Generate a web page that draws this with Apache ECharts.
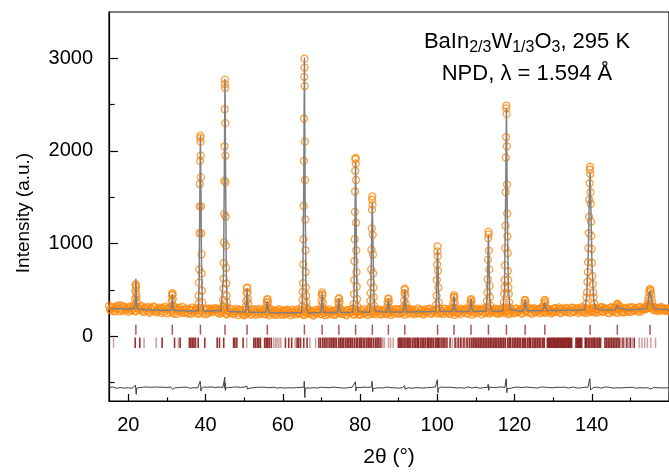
<!DOCTYPE html>
<html>
<head>
<meta charset="utf-8">
<script src="https://cdn.jsdelivr.net/npm/echarts/dist/echarts.min.js"></script>
<style>
html,body{margin:0;padding:0;background:#fff;}
#chart{width:669px;height:473px;}
</style>
</head>
<body>
<div id="chart"></div>
<script>
// ---------------- DATA ----------------
// observed background, set A (2θ from 15.0 in 0.5° steps)
const obsStartA = 15, obsStep = 0.5;
const obsBackgroundA = [
 328,278,309,267,318,295,334,273,312,285,
 262,321,290,330,271,305,283,326,259,300,
 315,253,294,322,268,280,309,249,297,318,
 246,307,284,262,313,239,291,275,316,252,
 298,244,281,309,257,287,240,303,265,296,
 237,299,262,284,276,305,289,241,268,300,
 290,233,271,298,249,262,295,228,280,255,
 226,288,253,279,240,292,231,266,294,245,
 284,236,262,225,289,250,277,229,291,258,
 230,282,247,270,224,287,261,235,289,248,
 279,227,261,288,240,265,222,283,251,272,
 238,286,226,263,290,245,271,229,284,257,
 289,241,268,224,280,252,291,233,266,277,
 232,273,292,246,227,285,259,238,290,264,
 287,234,268,295,243,276,229,282,257,293,
 240,291,258,230,279,296,247,285,235,270,
 299,248,277,233,288,260,297,241,271,285,
 244,292,256,238,297,270,249,301,262,231,
 293,255,239,284,270,300,248,279,233,290,
 247,296,272,235,289,258,302,244,280,263,
 298,241,285,264,303,250,276,237,293,269,
 251,300,266,289,243,305,274,256,297,240,
 302,261,288,246,309,270,253,296,280,244,
 257,303,270,311,249,288,265,306,282,252,
 309,262,296,250,288,314,271,300,255,292,
 264,310,251,297,278,315,260,302,285,248,
 312,266,297,253,290,317,272,258,305,281,
 260,314,279,300,262,318,289,305,296,324,
 335,312,281,306,270,298,315,276,301,289,268
];
// observed background, set B (2θ from 15.25 in 0.5° steps)
const obsStartB = 15.25;
const obsBackgroundB = [
 287,316,274,301,329,268,292,320,281,306,
 309,275,297,268,318,286,313,271,304,280,
 266,303,279,312,257,295,272,306,262,289,
 301,258,287,245,296,270,308,253,283,264,
 259,291,242,285,268,300,253,279,247,287,
 283,250,296,261,293,280,258,291,252,279,
 244,279,256,287,236,272,249,285,260,239,
 277,243,266,232,281,255,287,240,263,279,
 241,272,248,281,263,234,270,252,279,238,
 269,239,285,252,263,236,278,257,241,274,
 238,271,245,259,276,233,262,248,284,240,
 273,249,280,238,258,274,236,279,247,268,
 240,271,235,283,249,266,238,276,251,233,
 279,242,254,270,286,240,274,262,236,281,
 245,276,252,239,281,257,270,243,288,249,
 283,250,274,289,245,265,286,252,279,243,
 251,286,243,270,255,292,249,276,259,290,
 281,247,272,295,252,284,239,268,291,256,
 248,279,298,257,286,243,274,293,261,282,
 290,255,281,301,249,276,263,292,254,285,
 256,289,247,279,292,264,298,255,281,246,
 291,258,283,249,296,262,280,302,255,288,
 260,293,271,299,256,287,303,264,291,268,
 296,262,289,255,301,271,294,258,286,305,
 266,298,275,306,260,289,252,295,283,269,
 301,268,293,259,306,272,296,281,254,299,
 271,305,262,296,281,256,301,290,266,310,
 303,272,296,281,309,268,298,286,315,307,
 322,296,310,283,305,279,300,287,274,296
];
// observed points on the Bragg peaks [2θ, intensity]
const obsPeakPoints = [
 [21.6,330],[21.75,400],[21.85,490],[21.9,561],[21.95,545],[22.0,526],[22.05,455],[22.1,419],[22.2,366],[22.35,320],
 [31.1,320],[31.25,380],[31.33,440],[31.39,465],[31.45,450],[31.52,400],[31.65,330],
 [38.17,351],[38.25,437],[38.32,578],[38.37,721],[38.42,1111],[38.47,1402],[38.52,1643],[38.57,1892],[38.62,2140],[38.67,2165],
 [38.72,2100],[38.76,1950],[38.8,1715],[38.85,1402],[38.9,1111],[38.95,884],[39.0,678],[39.07,490],[39.15,365],
 [44.45,320],[44.55,391],[44.62,514],[44.68,621],[44.73,791],[44.78,1012],[44.83,1317],[44.88,1679],[44.93,2050],[44.96,2450],[44.99,2720],[45.04,2770],
 [45.08,2680],[45.12,2300],[45.15,1950],[45.18,1661],[45.22,1289],[45.27,977],[45.32,738],[45.37,568],[45.43,437],[45.5,365],[45.6,310],
 [50.45,320],[50.55,380],[50.65,470],[50.72,520],[50.78,525],[50.85,472],[50.95,401],[51.05,351],
 [55.72,310],[55.85,365],[55.95,395],[56.05,401],[56.15,365],[56.28,310],
 [65.0,320],[65.1,394],[65.17,479],[65.24,572],[65.3,774],[65.35,1047],[65.4,1406],[65.45,1892],[65.5,2350],[65.55,2800],[65.6,2996],
 [65.63,2900],[65.66,2700],[65.7,2100],[65.75,1686],[65.8,1260],[65.85,927],[65.9,692],[65.96,525],[66.03,437],[66.1,365],[66.2,310],
 [69.9,305],[70.02,380],[70.12,450],[70.2,472],[70.28,440],[70.4,360],[70.55,300],
 [74.25,300],[74.38,360],[74.48,400],[74.56,410],[74.66,370],[74.8,305],
 [78.28,300],[78.38,348],[78.46,455],[78.53,607],[78.58,809],[78.63,1047],[78.68,1342],[78.72,1562],[78.76,1786],[78.8,1910],[78.85,1925],
 [78.9,1864],[78.94,1686],[78.98,1225],[79.03,927],[79.08,692],[79.14,536],[79.21,401],[79.3,320],
 [82.58,310],[82.68,380],[82.76,465],[82.83,578],[82.9,721],[82.96,934],[83.02,1164],[83.08,1366],[83.13,1473],[83.18,1509],
 [83.24,1420],[83.29,1094],[83.34,881],[83.4,678],[83.47,525],[83.55,419],[83.65,330],
 [87.05,300],[87.18,360],[87.28,400],[87.36,408],[87.46,370],[87.6,305],
 [91.28,310],[91.4,380],[91.5,465],[91.57,514],[91.65,500],[91.75,440],[91.88,350],[92.0,300],
 [99.72,340],[99.82,437],[99.9,607],[99.97,774],[100.03,916],[100.08,969],[100.13,863],[100.2,703],[100.28,525],[100.37,365],[100.48,300],
 [104.02,305],[104.15,360],[104.26,420],[104.34,444],[104.43,420],[104.55,360],[104.7,300],
 [108.45,300],[108.58,350],[108.68,390],[108.76,401],[108.86,370],[109.0,305],
 [112.75,310],[112.88,380],[112.98,472],[113.06,614],[113.13,827],[113.2,1058],[113.25,1129],[113.31,1100],[113.37,923],[113.44,721],[113.52,543],[113.62,420],[113.75,330],
 [117.1,310],[117.22,365],[117.32,455],[117.4,525],[117.47,607],[117.54,764],[117.6,951],[117.66,1193],[117.71,1555],[117.76,1928],[117.81,2150],[117.86,2460],[117.91,2490],
 [117.96,2400],[118.01,2050],[118.06,1637],[118.11,1324],[118.16,1076],[118.22,898],[118.28,703],[118.35,607],[118.42,525],[118.5,455],[118.6,365],[118.72,310],
 [122.45,300],[122.58,345],[122.68,385],[122.76,391],[122.86,360],[123.0,305],
 [127.52,305],[127.66,350],[127.77,385],[127.86,391],[127.96,365],[128.12,310],
 [138.35,305],[138.52,350],[138.66,419],[138.78,472],[138.88,586],[138.97,692],[139.06,799],[139.14,951],[139.22,1111],[139.3,1289],[139.37,1473],[139.44,1651],[139.5,1797],[139.57,1829],
 [139.63,1750],[139.69,1555],[139.75,1430],[139.82,1235],[139.9,1083],[139.98,940],[140.06,791],[140.15,650],[140.24,561],[140.35,472],[140.47,419],[140.62,350],[140.8,305],
 [146.3,310],[146.48,335],[146.62,350],[146.78,340],[146.95,312],
 [154.4,340],[154.6,380],[154.75,419],[154.88,472],[155.0,505],[155.12,508],[155.25,490],[155.38,450],[155.5,400],[155.65,360],[155.85,320]
];
// calculated profile [2θ, intensity]
const calcPoints = [
 [15,300],[18,297],[20,294],
 [21.4,292],[21.75,330],[21.88,480],[21.96,620],[22.05,470],[22.2,330],[22.5,291],
 [25,286],[28,281],[30,279],
 [31.0,278],[31.25,330],[31.33,420],[31.39,455],[31.46,420],[31.55,330],[31.8,277],
 [34,275],[36,273],
 [38.1,272],[38.35,600],[38.5,1400],[38.67,2170],[38.82,1500],[38.98,700],[39.2,330],[39.5,272],
 [41,270],[42.5,278],[43.2,276],[44,267],
 [44.4,268],[44.65,650],[44.85,1700],[45.04,2780],[45.2,1650],[45.4,600],[45.65,300],[46.0,265],
 [48,263],
 [50.3,260],[50.55,330],[50.68,450],[50.75,515],[50.83,450],[50.97,330],[51.2,259],
 [53,257],
 [55.6,255],[55.85,310],[55.95,380],[56.0,400],[56.07,380],[56.2,310],[56.45,255],
 [58,254],[60,253],[62,252],[64,253],
 [64.9,256],[65.2,600],[65.42,1600],[65.6,3010],[65.78,1500],[66.0,560],[66.3,280],[66.6,254],
 [68,254],
 [69.8,256],[70.0,310],[70.12,420],[70.19,470],[70.27,420],[70.4,310],[70.65,256],
 [72,255],
 [74.1,256],[74.35,300],[74.46,380],[74.52,405],[74.6,380],[74.72,300],[74.95,256],
 [76.5,256],
 [78.1,258],[78.45,450],[78.7,1300],[78.85,1880],[79.0,1200],[79.2,430],[79.5,270],[79.8,258],
 [81,258],
 [82.5,259],[82.8,520],[83.02,1100],[83.18,1440],[83.32,1050],[83.55,480],[83.85,275],[84.2,259],
 [86,260],
 [86.9,260],[87.15,300],[87.27,380],[87.34,402],[87.42,380],[87.55,300],[87.8,261],
 [89.5,261],
 [91.1,262],[91.38,320],[91.5,440],[91.59,505],[91.68,440],[91.82,320],[92.1,262],
 [95,264],[97,264],
 [99.5,265],[99.8,420],[99.97,760],[100.08,930],[100.2,720],[100.38,380],[100.7,266],
 [102,265],
 [103.85,266],[104.12,310],[104.25,400],[104.33,440],[104.42,400],[104.56,310],[104.85,266],
 [106.5,266],
 [108.25,267],[108.53,300],[108.66,375],[108.74,400],[108.83,375],[108.97,300],[109.25,267],
 [111,268],
 [112.6,269],[112.95,440],[113.12,860],[113.25,1090],[113.38,830],[113.58,420],[113.95,272],
 [115.5,270],
 [117.0,272],[117.4,520],[117.68,1400],[117.91,2470],[118.12,1350],[118.4,540],[118.8,290],[119.2,272],
 [121,272],
 [122.25,273],[122.52,310],[122.66,368],[122.75,390],[122.84,368],[122.98,310],[123.25,274],
 [125,275],
 [127.3,276],[127.6,310],[127.75,370],[127.85,390],[127.95,370],[128.1,310],[128.4,277],
 [131,278],[134,279],[136.5,280],
 [138.2,285],[138.7,430],[139.1,900],[139.35,1450],[139.57,1770],[139.8,1350],[140.05,780],[140.45,420],[140.9,300],[141.4,283],
 [143,283],[145,284],
 [146.1,284],[146.4,305],[146.55,335],[146.62,342],[146.7,335],[146.85,305],[147.15,285],
 [149,286],[151,288],[153,292],
 [154.2,300],[154.55,350],[154.8,430],[155.0,490],[155.1,500],[155.25,480],[155.5,400],[155.8,330],[156.2,298],
 [157,293],[158,291],[160,289]
];
// difference curve (obs - calc, shifted), 0.5° steps from 15.0
const diffStart = 15, diffStep = 0.5;
const diffBaseline = [
 -552,-560,-549,-557,-563,-551,-556,-548,-561,-554,
 -557,-550,-562,-553,-547,-559,-555,-564,-550,-556,
 -549,-558,-553,-561,-548,-556,-552,-560,-551,-557,
 -554,-562,-549,-556,-559,-547,-555,-561,-552,-558,
 -550,-557,-563,-551,-556,-548,-559,-553,-560,-549,
 -556,-552,-561,-548,-557,-554,-562,-550,-558,-553,
 -560,-549,-555,-562,-551,-557,-548,-559,-553,-556,
 -551,-558,-554,-561,-549,-556,-563,-552,-557,-550,
 -559,-553,-548,-557,-562,-551,-555,-560,-549,-556,
 -554,-561,-550,-557,-552,-559,-548,-556,-562,-553,
 -557,-550,-558,-553,-561,-549,-556,-552,-560,-555,
 -551,-559,-554,-548,-557,-562,-550,-556,-553,-560,
 -558,-552,-561,-549,-555,-557,-551,-559,-554,-548,
 -556,-562,-550,-557,-553,-559,-549,-555,-561,-552,
 -557,-551,-559,-554,-548,-560,-556,-550,-558,-553,
 -561,-549,-555,-552,-559,-557,-550,-562,-554,-556,
 -551,-558,-553,-560,-548,-556,-561,-552,-557,-550,
 -555,-562,-549,-556,-553,-560,-551,-558,-554,-547,
 -559,-552,-557,-550,-561,-555,-548,-556,-560,-553,
 -550,-557,-562,-551,-556,-559,-553,-549,-558,-555,
 -561,-553,-556,-548,-560,-554,-557,-551,-562,-556,
 -552,-559,-550,-557,-555,-561,-549,-556,-553,-558,
 -556,-550,-560,-554,-548,-558,-552,-561,-555,-549,
 -557,-562,-551,-556,-553,-559,-550,-557,-561,-554,
 -549,-556,-558,-552,-560,-555,-551,-559,-553,-557,
 -560,-553,-557,-550,-556,-562,-554,-548,-558,-552,
 -555,-561,-549,-557,-553,-559,-551,-556,-560,-554,
 -558,-552,-556,-561,-550,-557,-553,-559,-548,-556,
 -552,-560,-555,-549,-557,-553,-558,-551,-559,-554,-556
];
const diffSpikes = [
 [21.85,-530],[21.95,-540],[22.05,-628],[22.15,-560],
 [31.35,-540],[31.45,-575],
 [38.6,-487],[38.72,-520],[38.8,-593],[38.9,-565],
 [44.98,-444],[45.05,-500],[45.12,-586],[45.2,-560],
 [50.7,-538],[50.8,-570],
 [65.55,-487],[65.62,-540],[65.7,-663],[65.8,-580],
 [78.8,-493],[78.88,-540],[78.95,-593],[79.05,-565],
 [83.12,-487],[83.2,-545],[83.27,-600],[83.35,-565],
 [91.55,-535],[91.65,-572],
 [100.02,-470],[100.1,-540],[100.18,-610],[100.28,-565],
 [113.2,-520],[113.3,-585],
 [117.85,-460],[117.93,-530],[118.0,-610],[118.1,-568],
 [139.5,-458],[139.6,-520],[139.7,-580],[139.85,-562],
 [155.0,-540],[155.2,-570]
];
// Bragg reflection positions
const braggPhase1 = [21.96,31.39,38.67,45.04,50.75,56.0,65.6,70.19,74.52,78.85,83.18,87.34,91.59,100.08,104.33,108.74,113.25,117.91,122.75,127.85,139.57,146.62,155.1];
const braggPhase2Strong = [
 21.78,22.97,28.75,31.97,33.42,35.8,36.2,36.6,37.0,37.4,38.09,39.79,43.01,43.61,44.71,47.26,47.6,48.11,49.72,
 52.5,52.9,53.38,53.8,54.22,55.3,55.7,56.1,56.5,57.0,60.68,61.53,62.29,63.7,64.1,64.6,65.43,66.28,69.34,69.8,70.36,70.8,71.21,71.7,
 72.2,72.6,73.1,73.5,73.9,74.5,74.9,75.4,75.8,76.3,76.7,77.1,77.6,78.0,78.5,79.0,79.4,79.9,80.3,80.8,81.2,81.7,82.1,82.6,83.0,83.5,84.0,84.4,84.9,85.4,
 89.9,90.3,90.7,91.1,91.5,91.9,92.3,92.7,93.1,93.6,94.0,94.4,94.8,95.2,95.7,96.1,96.5,96.9,97.4,97.8,98.2,98.6,99.0,99.5,99.9,100.3,100.7,101.2,101.6,102.0,102.5,
 103.3,104.6,105.4,106.1,106.9,107.7,108.4,
 108.9,109.3,109.8,110.2,110.6,111.1,111.5,111.9,112.4,112.8,113.2,113.7,114.1,114.5,115.0,115.4,115.8,116.3,116.7,117.1,117.6,
 118.2,118.6,119.0,119.5,119.9,120.3,120.8,121.2,121.6,122.1,122.5,122.9,123.4,123.8,124.2,124.7,125.1,125.5,126.0,126.4,126.8,127.3,127.7,
 128.5,128.8,129.1,129.4,129.7,130.0,130.3,130.6,130.9,131.2,131.5,131.8,132.1,132.4,132.7,133.0,133.3,133.6,133.9,134.2,134.5,134.8,
 135.9,136.2,136.5,136.8,137.1,137.4,
 138.3,138.7,139.1,139.5,139.9,140.3,140.7,141.1,141.5,141.9,142.3,
 143.4,143.8,144.3,144.7,145.1,145.6,146.0,146.4,146.8,
 147.2,148.1,149.1,150.0,151.0
];
const braggPhase2Weak = [
 16.18,24.08,27.22,32.99,50.66,57.6,58.1,58.5,59.0,59.49,63.2,67.0,68.5,
 72.9,75.1,77.4,80.1,82.4,84.7,85.9,86.3,87.35,87.9,88.6,
 90.5,92.5,95.0,97.6,100.1,103.9,104.9,105.8,106.5,107.3,108.0,
 109.6,110.9,112.2,113.5,114.8,116.1,117.4,118.8,120.6,122.3,124.0,125.8,127.5,
 138.5,140.5,142.0,144.0,145.3,147.7,148.6,149.6,150.5,152.3,153.0,153.7,154.4,155.3,156.5
];
const braggRow1Level = 70;    // intensity level of phase-1 tick row
const braggRow2Level = -72;   // intensity level of phase-2 tick row
// axes
const xMin = 15, xMax = 160;
const yMin = -700, yMax = 3500;
const xMajorTicks = [20,40,60,80,100,120,140,160];
const xMinorTicks = [30,50,70,90,110,130,150];
const xTickLabels = [20,40,60,80,100,120,140];
const yMajorTicks = [0,1000,2000,3000];
const yMinorTicks = [-500,500,1500,2500];
const yTickLabels = [0,1000,2000,3000];

// ---------------- CHART ----------------
const FONT = "'Liberation Sans', Arial, sans-serif";
const obsData = obsBackgroundA.map((v,i)=>[obsStartA + i*obsStep, v])
  .concat(obsBackgroundB.map((v,i)=>[obsStartB + i*obsStep, v]))
  .concat(obsPeakPoints);
const diffData = diffBaseline.map((v,i)=>[diffStart + i*diffStep, v]).concat(diffSpikes).sort((a,b)=>a[0]-b[0]);

const chart = echarts.init(document.getElementById('chart'), null, {renderer:'canvas'});
const axisCommonX = {type:'value', min:xMin, max:xMax, position:'bottom', splitLine:{show:false}};
const axisCommonY = {type:'value', min:yMin, max:yMax, position:'left', splitLine:{show:false}};
chart.setOption({
  animation:false,
  backgroundColor:'#fff',
  grid:{left:109, top:12, width:569, height:394, show:true, borderColor:'#000', borderWidth:1.2, backgroundColor:'transparent', containLabel:false},
  xAxis:[
    Object.assign({}, axisCommonX, {
      axisLine:{show:true, onZero:false, lineStyle:{color:'#000', width:1.2}},
      axisTick:{show:true, inside:true, length:7, customValues:xMajorTicks, lineStyle:{color:'#000', width:1.2}},
      axisLabel:{show:true, customValues:xTickLabels, margin:14, fontSize:20, fontFamily:FONT, color:'#000', formatter:v=>String(v)},
      name:'2θ (°)', nameLocation:'middle', nameGap:46,
      nameTextStyle:{fontSize:21, fontFamily:FONT, color:'#000'}
    }),
    Object.assign({}, axisCommonX, {
      axisLine:{show:false, onZero:false},
      axisTick:{show:true, inside:true, length:3.5, customValues:xMinorTicks, lineStyle:{color:'#000', width:1.2}},
      axisLabel:{show:false}
    })
  ],
  yAxis:[
    Object.assign({}, axisCommonY, {
      axisLine:{show:true, onZero:false, lineStyle:{color:'#000', width:1.2}},
      axisTick:{show:true, inside:true, length:9, customValues:yMajorTicks, lineStyle:{color:'#000', width:1.2}},
      axisLabel:{show:true, customValues:yTickLabels, margin:16, fontSize:20, fontFamily:FONT, color:'#000', formatter:v=>String(v)}
    }),
    Object.assign({}, axisCommonY, {
      offset:0,
      axisLine:{show:false, onZero:false},
      axisTick:{show:true, inside:true, length:5.5, customValues:yMinorTicks, lineStyle:{color:'#000', width:1.2}},
      axisLabel:{show:false}
    })
  ],
  series:[
    {
      name:'obs', type:'scatter', xAxisIndex:0, yAxisIndex:0,
      data:obsData, symbol:'circle', symbolSize:7,
      itemStyle:{color:'rgba(0,0,0,0)', borderColor:'#FF8A0F', borderWidth:1.3},
      emphasis:{disabled:true}, z:2
    },
    {
      name:'calc', type:'line', xAxisIndex:0, yAxisIndex:0,
      data:calcPoints, showSymbol:false, symbol:'none',
      lineStyle:{color:'#808080', width:1.5}, z:3
    },
    {
      name:'bragg1', type:'scatter', xAxisIndex:0, yAxisIndex:0,
      data:braggPhase1.map(x=>[x, braggRow1Level]), symbol:'rect', symbolSize:[1.5,10],
      itemStyle:{color:'#9e2b2b'}, z:2
    },
    {
      name:'bragg2weak', type:'scatter', xAxisIndex:0, yAxisIndex:0,
      data:braggPhase2Weak.map(x=>[x, braggRow2Level]), symbol:'rect', symbolSize:[1.6,10.5],
      itemStyle:{color:'#c48c8c'}, z:2
    },
    {
      name:'bragg2', type:'scatter', xAxisIndex:0, yAxisIndex:0,
      data:braggPhase2Strong.map(x=>[x, braggRow2Level]), symbol:'rect', symbolSize:[1.6,10.5],
      itemStyle:{color:'#7a0000'}, z:2
    },
    {
      name:'diff', type:'line', xAxisIndex:0, yAxisIndex:0,
      data:diffData, showSymbol:false, symbol:'none',
      lineStyle:{color:'#3c3c3c', width:1}, z:2
    }
  ],
  graphic:[
    {
      type:'text', x:24, y:213, rotation:Math.PI/2, z:10,
      style:{
        text:'Intensity (a.u.)',
        align:'center', verticalAlign:'middle', textAlign:'center', textVerticalAlign:'middle',
        fontSize:19, fontFamily:FONT, fill:'#000'
      }
    },
    {
      type:'text', x:527, y:27.5, z:10,
      style:{
        text:'BaIn{s|2/3}W{s|1/3}O{s|3}, 295 K',
        align:'center', verticalAlign:'top', textAlign:'center', textVerticalAlign:'top',
        fontSize:22, fontFamily:FONT, fill:'#000', lineHeight:28,
        rich:{ s:{fontSize:16, fontFamily:FONT, fill:'#000', lineHeight:14, verticalAlign:'bottom'} }
      }
    },
    {
      type:'text', x:527, y:59.5, z:10,
      style:{
        text:'NPD, λ = 1.594 Å',
        align:'center', verticalAlign:'top', textAlign:'center', textVerticalAlign:'top',
        fontSize:22, fontFamily:FONT, fill:'#000', lineHeight:28
      }
    }
  ]
});
</script>
</body>
</html>
